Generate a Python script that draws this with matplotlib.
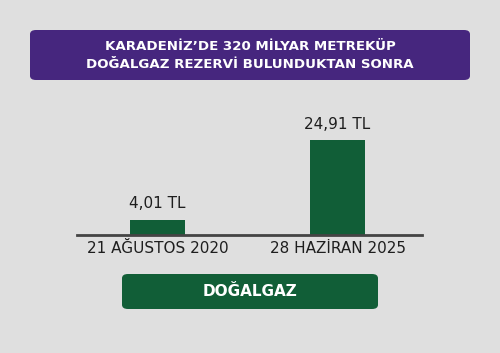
import matplotlib
matplotlib.use("Agg")
import matplotlib.pyplot as plt
from matplotlib.patches import FancyBboxPatch

categories = ["21 AĞUSTOS 2020", "28 HAZİRAN 2025"]
values = [4.01, 24.91]
value_labels = ["4,01 TL", "24,91 TL"]
title_lines = ["KARADENİZ’DE 320 MİLYAR METREKÜP", "DOĞALGAZ REZERVİ BULUNDUKTAN SONRA"]
footer = "DOĞALGAZ"

BG = "#dfdfdf"
PURPLE = "#46267e"
GREEN = "#115e37"
DARK = "#1e1e1e"

W, H = 500, 353
fig = plt.figure(figsize=(W/100, H/100), dpi=100, facecolor=BG)

def fx(px): return px / W
def fy(py): return 1 - py / H

# title box
tb = FancyBboxPatch((fx(30), fy(80)), fx(440), 50/H,
                    boxstyle="round,pad=0,rounding_size=0.012",
                    transform=fig.transFigure, facecolor=PURPLE, edgecolor="none")
fig.patches.append(tb)
fig.text(0.5, fy(46), title_lines[0], ha="center", va="center", color="white",
         fontsize=9.6, fontweight="bold", family="DejaVu Sans")
fig.text(0.5, fy(65), title_lines[1], ha="center", va="center", color="white",
         fontsize=9.6, fontweight="bold", family="DejaVu Sans")

# axes
ax_left, ax_right = 77, 422
ax_bottom, ax_top = 235, 115
ax = fig.add_axes([fx(ax_left), fy(ax_bottom), (ax_right-ax_left)/W, (ax_bottom-ax_top)/H])
ax.set_facecolor("none")
x = list(range(len(categories)))
bars = ax.bar(x, values, width=0.306, color=GREEN)
ax.set_xlim(-0.447, 1.469)
ax.set_ylim(0, 24.91 * 120 / 95)
for s in ["top", "right", "left"]:
    ax.spines[s].set_visible(False)
ax.spines["bottom"].set_color("#444444")
ax.spines["bottom"].set_linewidth(2)
ax.set_yticks([])
ax.set_xticks(x)
ax.set_xticklabels(categories, fontsize=11, color=DARK, family="DejaVu Sans")
ax.tick_params(axis="x", length=0, pad=4)
for xi, v, lab in zip(x, values, value_labels):
    ax.annotate(lab, (xi, v), xytext=(0, 6), textcoords="offset points",
                ha="center", va="bottom", fontsize=11, color=DARK, family="DejaVu Sans")

# footer box
fb = FancyBboxPatch((fx(122), fy(309)), fx(256), 35/H,
                    boxstyle="round,pad=0,rounding_size=0.012",
                    transform=fig.transFigure, facecolor=GREEN, edgecolor="none")
fig.patches.append(fb)
fig.text(0.5, fy(292), footer, ha="center", va="center", color="white",
         fontsize=11, fontweight="bold", family="DejaVu Sans")

fig.savefig("out.png", dpi=100, facecolor=BG)
